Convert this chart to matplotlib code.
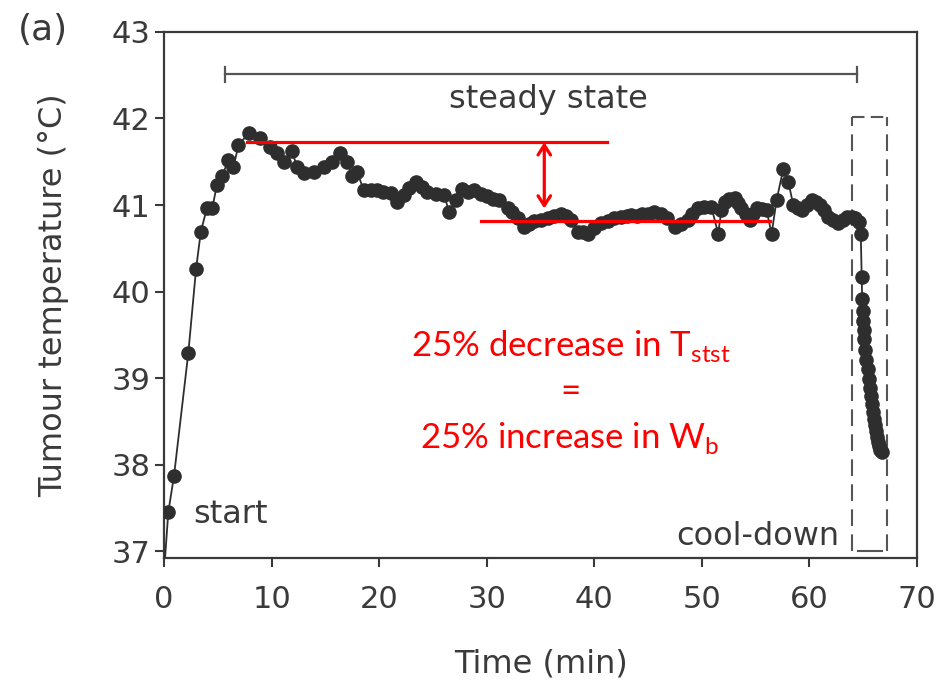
import matplotlib
matplotlib.use("Agg")
import matplotlib.pyplot as plt

# Tumour temperature record (minutes, degrees C)
time_min = [
    0.0, 0.40, 0.93, 2.26, 2.98, 3.42, 4.0, 4.5, 4.91, 5.38, 5.99, 6.46, 6.92,
    7.86, 8.95, 9.88, 10.5, 11.12, 11.9, 12.37, 12.98, 13.91, 14.85, 15.63,
    16.4, 17.03, 17.49, 17.96, 18.57, 19.2, 19.82, 20.4, 21.06, 21.69, 22.3,
    22.8, 23.39, 23.95, 24.48, 25.26, 26.03, 26.5, 27.12, 27.74, 28.24, 28.83,
    29.45, 30.07, 30.57, 31.15, 31.94, 32.34, 32.87, 33.49, 33.9, 34.42, 35.04,
    35.67, 36.25, 36.91, 37.37, 37.84, 38.46, 38.96, 39.39, 39.98, 40.63, 41.29,
    41.87, 42.5, 43.06, 43.43, 43.99, 44.45, 44.99, 45.57, 46.2, 46.8, 47.46,
    48.09, 48.71, 49.1, 49.65, 50.23, 50.88, 51.51, 51.82, 52.12, 52.56, 53.06,
    53.4, 53.68, 54.06, 54.46, 54.71, 55.08, 55.55, 56.01, 56.48, 56.95, 57.57,
    58.03, 58.5, 58.9, 59.27, 59.74, 60.2, 60.57, 60.98, 61.32, 61.76, 62.16,
    62.69, 63.09, 63.47, 63.93, 64.24, 64.58, 64.77,
    64.85, 64.9, 64.95, 65.0, 65.05, 65.1, 65.2, 65.3, 65.4, 65.5, 65.6, 65.7,
    65.8, 65.9, 66.0, 66.1, 66.2, 66.3, 66.4, 66.5, 66.6, 66.7,
]
temp_c = [
    36.75, 37.45, 37.87, 39.29, 40.26, 40.69, 40.97, 40.97, 41.23, 41.33, 41.52,
    41.44, 41.69, 41.83, 41.77, 41.67, 41.60, 41.50, 41.62, 41.44, 41.37, 41.38,
    41.44, 41.50, 41.60, 41.50, 41.33, 41.38, 41.17, 41.17, 41.17, 41.15, 41.14,
    41.04, 41.12, 41.20, 41.27, 41.21, 41.15, 41.13, 41.12, 40.92, 41.06, 41.19,
    41.15, 41.17, 41.13, 41.10, 41.07, 41.06, 40.96, 40.92, 40.85, 40.75, 40.78,
    40.81, 40.83, 40.85, 40.87, 40.90, 40.87, 40.83, 40.69, 40.69, 40.67, 40.73,
    40.79, 40.82, 40.85, 40.86, 40.87, 40.88, 40.87, 40.90, 40.90, 40.92, 40.90,
    40.85, 40.75, 40.78, 40.83, 40.90, 40.96, 40.98, 40.98, 40.67, 40.94, 41.04,
    41.07, 41.08, 41.02, 40.96, 40.90, 40.83, 40.90, 40.96, 40.95, 40.94, 40.67,
    41.06, 41.42, 41.27, 41.00, 40.97, 40.94, 41.00, 41.06, 41.03, 41.00, 40.94,
    40.86, 40.83, 40.79, 40.83, 40.86, 40.86, 40.85, 40.80, 40.66,
    40.17, 39.91, 39.78, 39.66, 39.55, 39.45, 39.32, 39.21, 39.10, 38.99, 38.89,
    38.79, 38.70, 38.61, 38.53, 38.46, 38.39, 38.32, 38.26, 38.21, 38.17, 38.14,
]

x_ticks = [0, 10, 20, 30, 40, 50, 60, 70]
y_ticks = [37, 38, 39, 40, 41, 42, 43]

# Steady-state levels and annotated phases
steady_start, steady_end = 5.7, 64.4
t_high_level = 41.725
t_low_level = 40.815
cool_start, cool_end = 63.93, 67.2

ink = "#3a3a3a"
box_ink = "#555555"
red = "#ff0000"

plt.rcParams["font.family"] = ["DejaVu Sans"]

fig = plt.figure(figsize=(9.42, 6.86), dpi=100)
ax = fig.add_axes([0.1741, 0.1866, 0.7994, 0.7668])

ax.plot(time_min, temp_c, color="#2e2e2e", lw=1.3, marker="o", ms=9.5,
        markerfacecolor="#2e2e2e", markeredgecolor="#2e2e2e", zorder=3)

ax.set_xlim(0, 70)
ax.set_ylim(36.92, 43)
ax.set_xticks(x_ticks)
ax.set_yticks(y_ticks)
ax.tick_params(axis="both", direction="out", length=6.5, width=1.5,
               color=ink, labelcolor=ink, labelsize=22)
ax.tick_params(axis="x", pad=13)
ax.tick_params(axis="y", pad=3)
for s in ax.spines.values():
    s.set_color(ink)
    s.set_linewidth(1.6)

ax.set_xlabel("Time (min)", fontsize=23, color=ink, labelpad=25)
ax.set_ylabel("Tumour temperature (°C)", fontsize=23, color=ink, labelpad=31)

# Steady-state bracket
ax.plot([steady_start, steady_end], [42.51, 42.51], color=box_ink, lw=1.6)
for xe in (steady_start, steady_end):
    ax.plot([xe, xe], [42.42, 42.60], color=box_ink, lw=1.6)
ax.text((steady_start + steady_end) / 2 + 0.7, 42.12, "steady state",
        fontsize=23, color=ink, ha="center", va="baseline")

# Cool-down box
dash = (0, (8, 4))
ax.plot([cool_start, cool_start], [37.0, 42.02], color=box_ink, lw=1.5, ls=dash)
ax.plot([cool_end, cool_end], [37.0, 42.02], color=box_ink, lw=1.5, ls=dash)
ax.plot([cool_start, cool_end], [42.02, 42.02], color=box_ink, lw=1.5, ls=(0, (6, 3)))
ax.plot([64.5, 66.7], [37.0, 37.0], color=box_ink, lw=1.5)

ax.text(2.7, 37.32, "start", fontsize=23, color=ink, ha="left", va="baseline")
ax.text(62.8, 37.07, "cool-down", fontsize=23, color=ink, ha="right", va="baseline")

# Red steady-state comparison
ax.plot([7.7, 41.2], [t_high_level, t_high_level], color=red, lw=2.3, zorder=4)
ax.plot([29.5, 56.3], [t_low_level, t_low_level], color=red, lw=2.3, zorder=4)
ax.annotate("", xy=(35.35, t_high_level), xytext=(35.35, 40.96),
            arrowprops=dict(arrowstyle="<->,head_length=0.7,head_width=0.45",
                            color=red, lw=2.3, shrinkA=0, shrinkB=0), zorder=4)

red_font = ["Lato", "DejaVu Sans"]
ax.text(37.8, 39.25, r"25% decrease in T$_{\mathregular{stst}}$", fontsize=25,
        color=red, ha="center", va="baseline", family=red_font)
ax.text(37.8, 38.84, "=", fontsize=25, color=red, ha="center", va="center",
        family=red_font)
ax.text(37.7, 38.19, r"25% increase in W$_{\mathregular{b}}$", fontsize=25,
        color=red, ha="center", va="baseline", family=red_font)

fig.text(18 / 942, 1 - 30 / 686, "(a)", fontsize=26, color=ink,
         ha="left", va="center")

fig.savefig("out.png", dpi=100, facecolor="white")
